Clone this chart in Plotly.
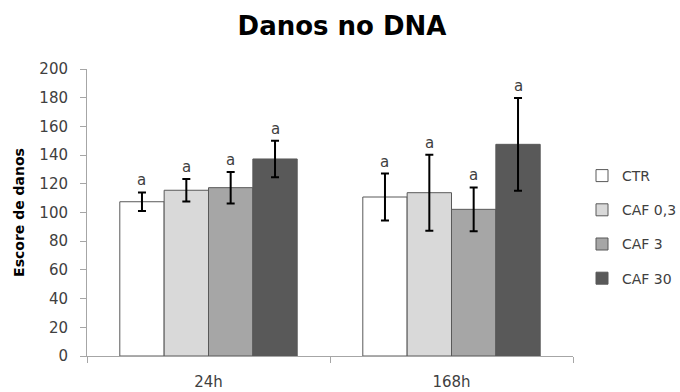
import plotly.graph_objects as go

categories = ["24h", "168h"]
series_names = ["CTR", "CAF 0,3", "CAF 3", "CAF 30"]
means = {
    "CTR": [107.5, 110.8],
    "CAF 0,3": [115.5, 113.8],
    "CAF 3": [117.3, 102.2],
    "CAF 30": [137.3, 147.5],
}
errors = {
    "CTR": [6.5, 16.3],
    "CAF 0,3": [7.8, 26.5],
    "CAF 3": [11.0, 15.3],
    "CAF 30": [12.7, 32.3],
}
letters = {
    "CTR": ["a", "a"],
    "CAF 0,3": ["a", "a"],
    "CAF 3": ["a", "a"],
    "CAF 30": ["a", "a"],
}
colors = ["#ffffff", "#d9d9d9", "#a6a6a6", "#595959"]
y_ticks = [0, 20, 40, 60, 80, 100, 120, 140, 160, 180, 200]

FONT = "'DejaVu Sans', sans-serif"

fig = go.Figure()
for name, col in zip(series_names, colors):
    fig.add_trace(go.Bar(
        name=name, x=categories, y=means[name],
        marker=dict(color=col, line=dict(color="#595959", width=1)),
        error_y=dict(type="data", array=errors[name], color="#000000", thickness=2, width=4),
        legendgroup=name,
    ))

n = len(series_names)
bargap = 0.27
group_w = 1 - bargap
bar_w = group_w / n
for i, name in enumerate(series_names):
    for j, cat in enumerate(categories):
        top = means[name][j] + errors[name][j]
        fig.add_annotation(
            x=j - group_w / 2 + bar_w * (i + 0.5), xref="x",
            y=top, yref="y", yshift=12,
            text=letters[name][j], showarrow=False,
            font=dict(size=15, color="#404040", family=FONT),
        )

fig.update_layout(
    width=680, height=392,
    margin=dict(l=87, r=107, t=69, b=36, autoexpand=False),
    paper_bgcolor="white", plot_bgcolor="white",
    barmode="group", bargap=bargap, bargroupgap=0,
    title=dict(text="<b>Danos no DNA</b>", x=0.503, xanchor="center", y=0.934, yanchor="middle",
               font=dict(size=26, color="#000000", family=FONT)),
    font=dict(family=FONT, color="#404040", size=15),
    legend=dict(xref="container", yref="container", x=582 / 680, y=1 - 160 / 392,
                xanchor="left", yanchor="top",
                font=dict(size=14, color="#404040", family=FONT),
                tracegroupgap=13, bgcolor="rgba(0,0,0,0)"),
    showlegend=True,
)
fig.update_yaxes(
    range=[0, 200], tickvals=y_ticks, showgrid=False, zeroline=False,
    showline=True, linecolor="#a6a6a6", linewidth=1,
    ticks="outside", ticklen=6, tickcolor="#a6a6a6", ticklabelstandoff=9,
    tickfont=dict(size=15, color="#404040"),
    title=dict(text="<b>Escore de danos</b>", font=dict(size=14, color="#000000"), standoff=11),
)
fig.update_xaxes(
    type="category", showgrid=False, zeroline=False,
    showline=True, linecolor="#a6a6a6", linewidth=1,
    ticks="outside", ticklen=6, tickcolor="#a6a6a6", tickson="boundaries",
    ticklabelstandoff=12,
    tickfont=dict(size=15, color="#404040"),
)

fig.write_html("out.html")
